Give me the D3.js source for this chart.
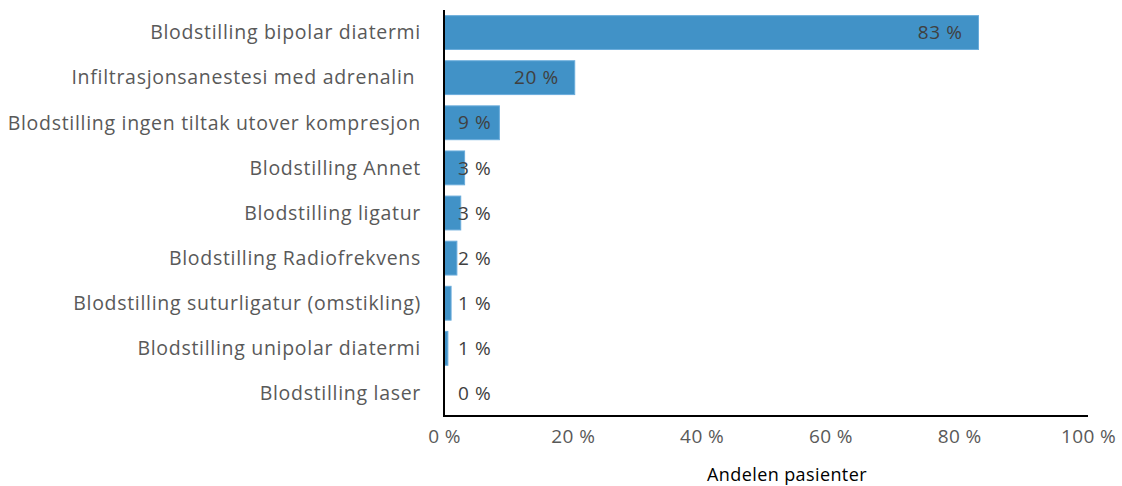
<!DOCTYPE html>
<html>
<head>
<meta charset="utf-8">
<script src="https://cdn.jsdelivr.net/npm/d3@7/dist/d3.min.js"></script>
<style>
  html, body { margin: 0; padding: 0; background: #fff; }
  svg { display: block; }
  text { font-family: "Open Sans", Lato, sans-serif; }
</style>
</head>
<body>
<svg id="chart" width="1122" height="486"></svg>
<script>
// Blodstillingsmetoder, andel pasienter (%)
const categories = [
  "Blodstilling bipolar diatermi",
  "Infiltrasjonsanestesi med adrenalin ",
  "Blodstilling ingen tiltak utover kompresjon",
  "Blodstilling Annet",
  "Blodstilling ligatur",
  "Blodstilling Radiofrekvens",
  "Blodstilling suturligatur (omstikling)",
  "Blodstilling unipolar diatermi",
  "Blodstilling laser"
];
const values = [83.0, 20.3, 8.6, 3.2, 2.6, 2.0, 1.1, 0.6, 0.0];
const xTicks = [0, 20, 40, 60, 80, 100];
const axisTitle = "Andelen pasienter";

const svg = d3.select("#chart");
const plotLeft = 444, plotRight = 1088, plotTop = 10, plotBottom = 416;

const x = d3.scaleLinear().domain([0, 100]).range([plotLeft, plotRight]);
const y = d3.scaleBand().domain(categories).range([plotTop, plotBottom])
  .paddingInner(0.25).paddingOuter(0.125);

const pct = v => `${Math.round(v)} %`;

// Bars
svg.append("g").selectAll("rect")
  .data(values)
  .join("rect")
  .attr("x", x(0))
  .attr("y", (d, i) => y(categories[i]))
  .attr("width", d => x(d) - x(0))
  .attr("height", y.bandwidth())
  .attr("fill", "#4192c7")
  .attr("stroke", d => d > 0 ? "#6aacdb" : "none")
  .attr("stroke-width", 1);

// Category labels
svg.append("g").selectAll("text")
  .data(categories)
  .join("text")
  .attr("x", 421)
  .attr("y", d => y(d) + y.bandwidth() / 2)
  .attr("dy", "0.35em")
  .attr("text-anchor", "end")
  .attr("fill", "#595959")
  .attr("font-size", 19.5)
  .attr("letter-spacing", 0.7)
  .style("white-space", "pre")
  .text(d => d);

// Value labels: inside end, pushed out past the axis when the bar is short
const valueG = svg.append("g");
values.forEach((v, i) => {
  const t = valueG.append("text")
    .attr("y", y(categories[i]) + y.bandwidth() / 2)
    .attr("dy", "0.35em")
    .attr("text-anchor", "end")
    .attr("fill", "#404040")
    .attr("font-size", 19)
    .attr("letter-spacing", 0.6)
    .text(pct(v));
  const w = t.node().getComputedTextLength();
  const endX = Math.max(x(v) - 16, 458 + w);
  t.attr("x", endX);
});

// X axis
const xAxis = svg.append("g")
  .attr("transform", `translate(0,${plotBottom})`)
  .call(d3.axisBottom(x).tickValues(xTicks).tickSize(0).tickPadding(14)
    .tickFormat(d => `${d} %`));
xAxis.select(".domain").remove();
xAxis.selectAll("text")
  .attr("font-family", "'Open Sans', Lato, sans-serif")
  .attr("font-size", 19)
  .attr("letter-spacing", 0.4)
  .attr("fill", "#595959");

// Axis lines
svg.append("line")
  .attr("x1", plotLeft).attr("x2", plotRight)
  .attr("y1", plotBottom).attr("y2", plotBottom)
  .attr("stroke", "#000").attr("stroke-width", 2);
svg.append("line")
  .attr("x1", plotLeft).attr("x2", plotLeft)
  .attr("y1", plotTop).attr("y2", plotBottom + 1)
  .attr("stroke", "#000").attr("stroke-width", 2);

// Axis title
svg.append("text")
  .attr("x", 787)
  .attr("y", 481)
  .attr("text-anchor", "middle")
  .attr("fill", "#000")
  .attr("font-size", 18)
  .attr("letter-spacing", 0.4)
  .text(axisTitle);
</script>
</body>
</html>
